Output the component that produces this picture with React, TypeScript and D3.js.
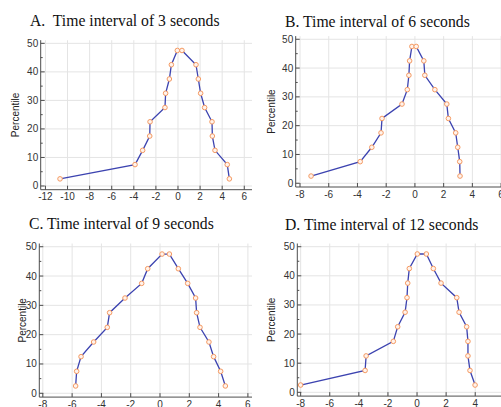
import React from 'react';
import * as d3 from 'd3';

// percentile of each point, in path order (left side going up, right side coming down)
const percentilePath = [2.5, 7.5, 12.5, 17.5, 22.5, 27.5, 32.5, 37.5, 42.5, 47.5,
                        47.5, 42.5, 37.5, 32.5, 27.5, 22.5, 17.5, 12.5, 7.5, 2.5];

const xInterval3  = [-10.68, -3.89, -3.2, -2.56, -2.53, -1.18, -1.12, -0.78, -0.6, -0.06,
                     0.36, 1.63, 1.84, 2.05, 2.41, 3.08, 3.11, 3.35, 4.46, 4.65];
const xInterval6  = [-7.23, -3.81, -3.0, -2.36, -2.29, -0.9, -0.53, -0.42, -0.37, -0.21,
                     0.09, 0.62, 0.69, 1.39, 2.22, 2.33, 2.84, 2.98, 3.12, 3.14];
const xInterval9  = [-5.76, -5.69, -5.39, -4.53, -3.6, -3.44, -2.39, -1.25, -0.84, 0.14,
                     0.64, 1.25, 1.89, 2.43, 2.5, 2.73, 3.34, 3.66, 4.14, 4.46];
const xInterval12 = [-8.0, -3.57, -3.5, -1.63, -1.33, -0.82, -0.69, -0.64, -0.53, 0.02,
                     0.64, 1.12, 1.65, 2.73, 2.89, 3.41, 3.5, 3.5, 3.64, 3.99];

const titles = ['A.  Time interval of 3 seconds', 'B. Time interval of 6 seconds',
                'C. Time interval of 9 seconds', 'D. Time interval of 12 seconds'];

const yTickValues = [0, 10, 20, 30, 40, 50];
const yMinorValues = [5, 15, 25, 35, 45];
const xTicksA = [-12, -10, -8, -6, -4, -2, 0, 2, 4, 6];
const xTicksOther = [-8, -6, -4, -2, 0, 2, 4, 6];

const W = 501, H = 407;
const axisColor = '#4d4d4d';
const gridColor = '#e4e4e4';
const lineColor = '#3c43b0';
const markColor = '#f59a62';
const sans = '"Liberation Sans", Arial, sans-serif';
const serif = '"Liberation Serif", "Times New Roman", serif';

type PanelProps = {
    title: string; xs: number[]; xTicks: number[];
    xDomain: [number, number]; yDomain: [number, number];
    left: number; right: number; top: number; bottom: number;
    titleX: number; titleY: number; labelX: number;
};

function Panel(p: PanelProps) {
    const x = d3.scaleLinear().domain(p.xDomain).range([p.left, p.right]);
    const y = d3.scaleLinear().domain(p.yDomain).range([p.bottom, p.top]);

    const pts = p.xs.map((v, i) => ({ x: v, y: percentilePath[i] }));
    const line = d3.line<{x: number, y: number}>()
        .x(d => x(d.x))
        .y(d => y(d.y));

    return (
        <g>
            <text x={p.titleX} y={p.titleY} fontFamily={serif} fontSize={15.7} fill="#111"
                  style={{whiteSpace: 'pre'}}>{p.title}</text>
            {/* grid */}
            {p.xTicks.map(t => (
                <line key={'gx' + t} x1={x(t)} x2={x(t)} y1={p.top} y2={p.bottom} stroke={gridColor} />
            ))}
            {yTickValues.map(t => (
                <line key={'gy' + t} x1={p.left} x2={p.right} y1={y(t)} y2={y(t)} stroke={gridColor} />
            ))}
            {/* axes */}
            <line x1={p.left} x2={p.left} y1={p.top} y2={p.bottom} stroke={axisColor} />
            <line x1={p.left} x2={p.right} y1={p.bottom} y2={p.bottom} stroke={axisColor} />
            {yTickValues.map(t => (
                <g key={'ty' + t} transform={`translate(${p.left},${y(t)})`}>
                    <line x1={0} x2={4} stroke={axisColor} />
                    <text x={-2.5} y={3.5} textAnchor="end" fontFamily={sans} fontSize={10} fill="#333">{t}</text>
                </g>
            ))}
            {yMinorValues.map(t => (
                <line key={'my' + t} x1={p.left} x2={p.left + 2} y1={y(t)} y2={y(t)} stroke={axisColor} />
            ))}
            {p.xTicks.map(t => (
                <g key={'tx' + t} transform={`translate(${x(t)},${p.bottom})`}>
                    <line y1={0} y2={-4} stroke={axisColor} />
                    <text y={10.5} textAnchor="middle" fontFamily={sans} fontSize={10} fill="#333">{t}</text>
                </g>
            ))}
            <text transform={`translate(${p.labelX},${(p.top + p.bottom) / 2}) rotate(-90)`}
                  textAnchor="middle" dy="0.35em" fontFamily={sans} fontSize={10} fill="#222">Percentile</text>
            {/* data */}
            <path d={line(pts) || ''} fill="none" stroke={lineColor} strokeWidth={1.3} />
            {pts.map((d, i) => (
                <circle key={i} cx={x(d.x)} cy={y(d.y)} r={2.3} fill="#fff3ec" stroke={markColor} strokeWidth={1} />
            ))}
        </g>
    );
}

export default function App() {
    return (
        <svg width={W} height={H} style={{position: 'absolute', left: 0, top: 0}}>
            <rect width={W} height={H} fill="#fff" />
            <Panel title={titles[0]} xs={xInterval3} xTicks={xTicksA}
                   xDomain={[-12.43, 6.7]} yDomain={[-1.3, 51.1]}
                   left={40.7} right={252} top={40.2} bottom={189.7}
                   titleX={30} titleY={26} labelX={15} />
            <Panel title={titles[1]} xs={xInterval6} xTicks={xTicksOther}
                   xDomain={[-8.3, 6.62]} yDomain={[-1.3, 51.1]}
                   left={295.7} right={510} top={36.1} bottom={187}
                   titleX={285} titleY={26.5} labelX={271.7} />
            <Panel title={titles[2]} xs={xInterval9} xTicks={xTicksOther}
                   xDomain={[-8.24, 6.28]} yDomain={[-1.3, 51.1]}
                   left={39.3} right={252} top={243.5} bottom={397.1}
                   titleX={29} titleY={229} labelX={22.7} />
            <Panel title={titles[3]} xs={xInterval12} xTicks={xTicksOther}
                   xDomain={[-8.23, 6.39]} yDomain={[-1.3, 51.1]}
                   left={297.3} right={510} top={243.5} bottom={396.1}
                   titleX={285} titleY={230} labelX={271.7} />
        </svg>
    );
}
